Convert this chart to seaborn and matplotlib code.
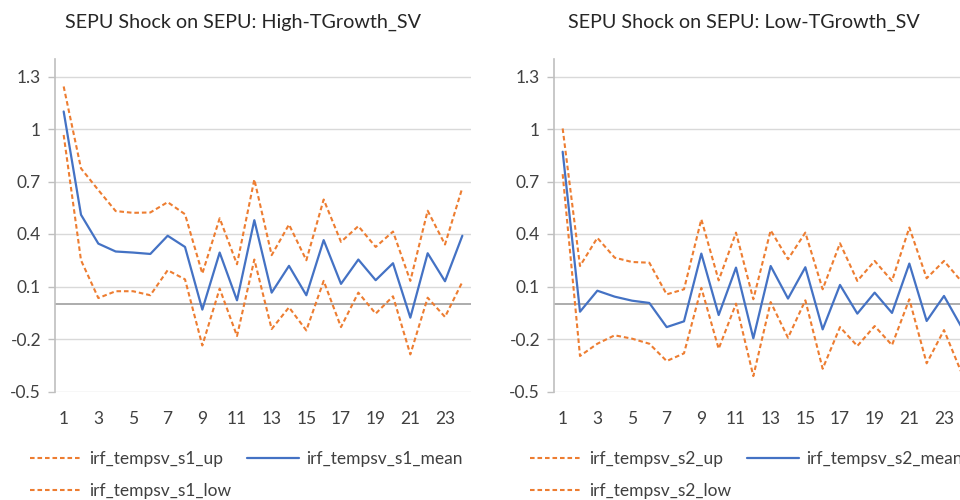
import numpy as np
import pandas as pd
import matplotlib
matplotlib.use("Agg")
import matplotlib.pyplot as plt
import seaborn as sns

periods = list(range(1, 25))

s1_up = [1.243, 0.775, 0.651, 0.531, 0.521, 0.523, 0.582, 0.513, 0.174, 0.490, 0.227, 0.712,
         0.279, 0.454, 0.250, 0.597, 0.355, 0.445, 0.326, 0.414, 0.132, 0.533, 0.340, 0.664]
s1_mean = [1.100, 0.510, 0.345, 0.300, 0.294, 0.286, 0.390, 0.326, -0.032, 0.294, 0.021, 0.479,
           0.065, 0.218, 0.050, 0.365, 0.115, 0.254, 0.136, 0.233, -0.078, 0.290, 0.130, 0.390]
s1_low = [0.966, 0.250, 0.034, 0.073, 0.073, 0.050, 0.193, 0.141, -0.237, 0.088, -0.183, 0.254,
          -0.143, -0.019, -0.151, 0.132, -0.132, 0.065, -0.055, 0.044, -0.288, 0.036, -0.074, 0.126]

s2_up = [1.003, 0.217, 0.378, 0.265, 0.240, 0.236, 0.055, 0.084, 0.484, 0.135, 0.408, 0.027,
         0.421, 0.256, 0.408, 0.084, 0.347, 0.132, 0.246, 0.132, 0.437, 0.147, 0.246, 0.130]
s2_mean = [0.870, -0.044, 0.076, 0.042, 0.019, 0.006, -0.132, -0.099, 0.288, -0.063, 0.208, -0.196,
           0.217, 0.031, 0.210, -0.145, 0.109, -0.055, 0.065, -0.051, 0.231, -0.097, 0.046, -0.130]
s2_low = [0.742, -0.297, -0.227, -0.179, -0.198, -0.227, -0.326, -0.282, 0.092, -0.256, 0.002, -0.412,
          0.011, -0.193, 0.021, -0.370, -0.132, -0.240, -0.126, -0.235, 0.027, -0.339, -0.149, -0.390]

titles = ["SEPU Shock on SEPU: High-TGrowth_SV", "SEPU Shock on SEPU: Low-TGrowth_SV"]
labels = [["irf_tempsv_s1_up", "irf_tempsv_s1_mean", "irf_tempsv_s1_low"],
          ["irf_tempsv_s2_up", "irf_tempsv_s2_mean", "irf_tempsv_s2_low"]]
yticks = [-0.5, -0.2, 0.1, 0.4, 0.7, 1.0, 1.3]
ytick_labels = ["-0.5", "-0.2", "0.1", "0.4", "0.7", "1", "1.3"]
xticks = list(range(1, 24, 2))

sns.set_style("white")
plt.rcParams["font.family"] = ["Lato", "DejaVu Sans"]

ORANGE = "#ED7D31"
BLUE = "#4472C4"
TXT = "#404040"
W, H = 960, 500
fig = plt.figure(figsize=(9.6, 5.0), dpi=100)

panels = [
    (55, 471, s1_up, s1_mean, s1_low, 243, 30),
    (554, 970, s2_up, s2_mean, s2_low, 744, 530),
]
top_px, bot_px = 59, 391.5
FS = 12.5

for i, (lpx, rpx, up, mean, low, tcx, legx) in enumerate(panels):
    ax = fig.add_axes([lpx / W, (H - bot_px) / H, (rpx - lpx) / W, (bot_px - top_px) / H])
    df = pd.DataFrame({"period": periods, "up": up, "mean": mean, "low": low})
    ax.axhline(0, color="#a6a6a6", lw=1.3, zorder=1)
    for y in yticks:
        ax.axhline(y, color="#d9d9d9", lw=1.0, zorder=0)
    sns.lineplot(data=df, x="period", y="up", ax=ax, color=ORANGE, lw=1.5,
                 linestyle=(0, (2.2, 1.4)), label=labels[i][0], zorder=3)
    sns.lineplot(data=df, x="period", y="mean", ax=ax, color=BLUE, lw=1.6,
                 label=labels[i][1], zorder=4)
    sns.lineplot(data=df, x="period", y="low", ax=ax, color=ORANGE, lw=1.5,
                 linestyle=(0, (2.2, 1.4)), label=labels[i][2], zorder=3)
    ax.set_xlim(0.5, 24.5)
    ax.set_ylim(-0.5, 1.4)
    ax.set_yticks(yticks)
    ax.set_yticklabels(ytick_labels)
    ax.set_xticks(xticks)
    ax.set_xticklabels([str(x) for x in xticks])
    ax.set_xlabel("")
    ax.set_ylabel("")
    for s in ["top", "right", "bottom"]:
        ax.spines[s].set_visible(False)
    ax.spines["left"].set_color("#bfbfbf")
    ax.spines["left"].set_linewidth(1.2)
    ax.tick_params(axis="y", length=5, color="#bfbfbf", width=1, pad=5,
                   labelsize=FS, labelcolor=TXT, left=True)
    ax.tick_params(axis="x", length=0, pad=14, labelsize=FS, labelcolor=TXT)
    handles, lbls = ax.get_legend_handles_labels()
    order = [0, 2, 1]
    ax.legend([handles[k] for k in order], [lbls[k] for k in order], ncol=2,
              loc="upper left", bbox_to_anchor=(legx / W - 0.016, (H - 435) / H),
              bbox_transform=fig.transFigure, frameon=False, fontsize=FS,
              handlelength=3.0, handletextpad=0.4, columnspacing=0.9,
              labelspacing=0.95, labelcolor=TXT)
    fig.text(tcx / W, (H - 22) / H, titles[i], ha="center", va="center",
             fontsize=14.2, color="#262626")

fig.savefig("out.png", dpi=100)
